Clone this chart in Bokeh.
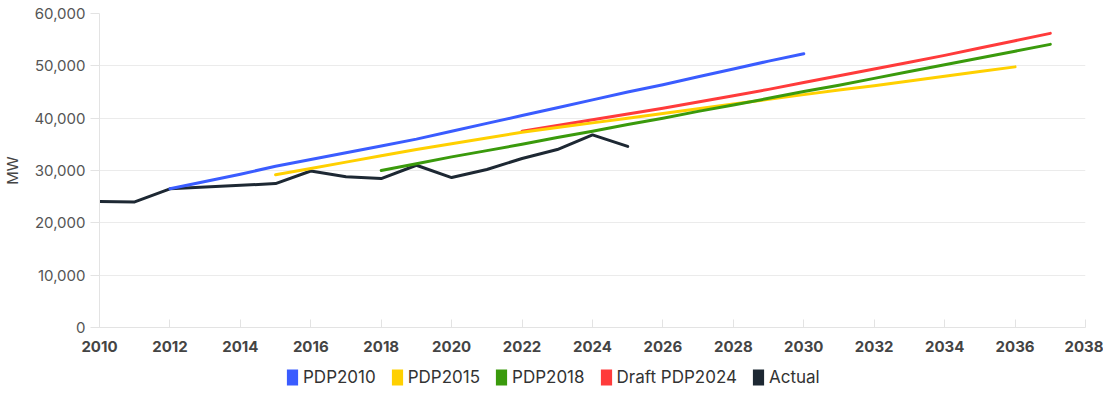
from bokeh.plotting import figure
from bokeh.layouts import column
from bokeh.models import (ColumnDataSource, Legend, LegendItem, NumeralTickFormatter,
                          FixedTicker, Range1d)
from bokeh.embed import file_html
from bokeh.resources import INLINE

# ---- data (MW) ----
pdp2010_years = list(range(2012, 2031))
pdp2010_mw = [26500, 27900, 29300, 30800, 32100, 33400, 34700, 36000, 37500, 39000,
              40500, 42000, 43500, 45000, 46400, 47900, 49400, 50900, 52300]

pdp2015_years = list(range(2015, 2037))
pdp2015_mw = [29200, 30400, 31600, 32800, 34000, 35100, 36200, 37300, 38200, 39100,
              40000, 40900, 41800, 42700, 43600, 44500, 45400, 46200, 47100, 48000,
              48900, 49800]

pdp2018_years = list(range(2018, 2038))
pdp2018_mw = [30000, 31300, 32600, 33800, 35000, 36300, 37500, 38800, 40000, 41300,
              42500, 43800, 45100, 46300, 47600, 48900, 50200, 51500, 52800, 54100]

draft2024_years = list(range(2022, 2038))
draft2024_mw = [37500, 38600, 39700, 40800, 41900, 43100, 44300, 45500, 46800, 48100,
                49400, 50700, 52000, 53400, 54800, 56200]

actual_years = [2010, 2011, 2012, 2015, 2016, 2017, 2018, 2019, 2020, 2021, 2022, 2023, 2024, 2025]
actual_mw = [24100, 24000, 26500, 27500, 29900, 28800, 28450, 31000, 28650, 30200,
             32300, 34000, 36800, 34600]

series_names = ["PDP2010", "PDP2015", "PDP2018", "Draft PDP2024", "Actual"]
series_colors = ["#3a5cff", "#ffd000", "#3a9a0c", "#ff3b3b", "#1d2833"]
x_ticks = list(range(2010, 2040, 2))
y_ticks = [0, 10000, 20000, 30000, 40000, 50000, 60000]

FONT = "Inter"

p = figure(width=1103, height=358, output_backend="svg", toolbar_location=None,
           x_range=Range1d(2010, 2038), y_range=Range1d(0, 60000),
           min_border_left=99, min_border_right=18, min_border_top=13, min_border_bottom=31)
p.outline_line_color = None
p.background_fill_color = "white"
p.border_fill_color = "white"

series = [
    (pdp2010_years, pdp2010_mw),
    (pdp2015_years, pdp2015_mw),
    (pdp2018_years, pdp2018_mw),
    (draft2024_years, draft2024_mw),
    (actual_years, actual_mw),
]

sources = [ColumnDataSource(dict(x=xs, y=ys)) for xs, ys in series]

draw_order = [4, 3, 1, 2, 0]
for i in draw_order:
    p.line("x", "y", source=sources[i], line_color=series_colors[i], line_width=3,
           line_join="round", line_cap="round")

# axes
xa = p.xaxis[0]
xa.ticker = FixedTicker(ticks=x_ticks)
xa.minor_tick_line_color = None
xa.major_tick_in = 8
xa.major_tick_out = 0
xa.major_tick_line_color = "#e3e3e3"
xa.axis_line_color = "#e3e3e3"
xa.major_label_standoff = 13
xa.major_label_text_font = FONT
xa.major_label_text_font_size = "15px"
xa.major_label_text_font_style = "bold"
xa.major_label_text_color = "#444444"

ya = p.yaxis[0]
ya.ticker = FixedTicker(ticks=y_ticks)
ya.formatter = NumeralTickFormatter(format="0,0")
ya.minor_tick_line_color = None
ya.major_tick_in = 0
ya.major_tick_out = 9
ya.major_tick_line_color = "#e3e3e3"
ya.axis_line_color = "#e3e3e3"
ya.major_label_standoff = 5
ya.major_label_text_font = FONT
ya.major_label_text_font_size = "15px"
ya.major_label_text_color = "#555555"
ya.axis_label = "MW"
ya.axis_label_text_font = FONT
ya.axis_label_text_font_size = "15px"
ya.axis_label_text_font_style = "normal"
ya.axis_label_text_color = "#444444"
ya.axis_label_standoff = 9

p.xgrid.grid_line_color = None
p.ygrid.grid_line_color = "#ebebeb"
p.ygrid.grid_line_width = 1

# ---- legend strip (separate small figure, same sources) ----
lg = figure(width=1103, height=30, output_backend="svg", toolbar_location=None,
            x_range=p.x_range, y_range=p.y_range,
            x_axis_location=None, y_axis_location=None, min_border=0)
lg.outline_line_color = None
lg.xgrid.visible = False
lg.ygrid.visible = False

items = []
for i, name in enumerate(series_names):
    r = lg.vbar(x="x", top="y", bottom="y", width=0, source=sources[i],
                fill_color=series_colors[i], line_color=series_colors[i], line_alpha=0)
    items.append(LegendItem(label=name, renderers=[r]))

legend = Legend(items=items, orientation="horizontal", location=(186, 1),
                glyph_width=14, glyph_height=20, label_standoff=4, spacing=14,
                padding=2, margin=0, border_line_color=None, background_fill_alpha=0,
                label_text_font=FONT, label_text_font_size="17px",
                label_text_color="#333333")
lg.add_layout(legend, "center")

layout = column(p, lg, spacing=0)
open("out.html", "w").write(file_html(layout, INLINE))
